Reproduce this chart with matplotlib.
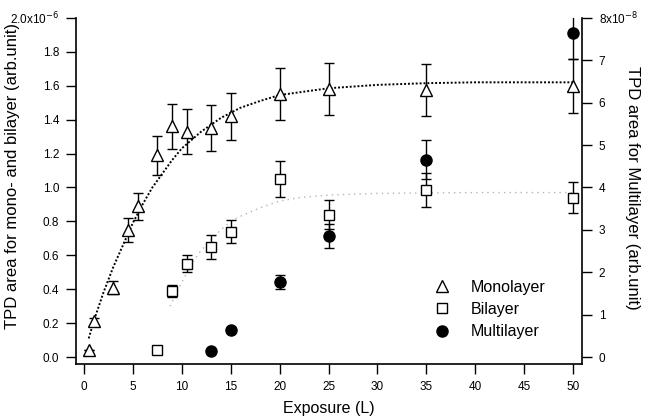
import matplotlib

matplotlib.use("Agg")
import matplotlib.pyplot as plt
from matplotlib.lines import Line2D

plt.rcParams["font.family"] = ["Liberation Sans", "DejaVu Sans"]

# Monolayer (left axis, units of 1e-6)
mono_x = [0.5, 1, 3, 4.5, 5.5, 7.5, 9, 10.5, 13, 15, 20, 25, 35, 50]
mono_y = [0.04, 0.21, 0.41, 0.75, 0.89, 1.19, 1.36, 1.33, 1.35, 1.42, 1.55, 1.58, 1.575, 1.60]
mono_err = [0.0, 0.02, 0.04, 0.07, 0.08, 0.115, 0.135, 0.13, 0.135, 0.14, 0.155, 0.155, 0.155, 0.16]

# Bilayer (left axis, units of 1e-6)
bi_x = [7.5, 9, 10.5, 13, 15, 20, 25, 35, 50]
bi_y = [0.04, 0.39, 0.55, 0.65, 0.74, 1.05, 0.84, 0.985, 0.94]
bi_err = [0.02, 0.035, 0.05, 0.07, 0.07, 0.105, 0.085, 0.1, 0.09]

# Multilayer (right axis, units of 1e-8)
multi_x = [13, 15, 20, 25, 35, 50]
multi_y = [0.14, 0.64, 1.77, 2.85, 4.65, 7.64]
multi_err = [0.0, 0.0, 0.17, 0.29, 0.46, 0.6]

# fit curves
mono_fit_x = [0.5, 1, 2, 3, 4, 5, 6, 7, 8, 9, 10, 12, 14, 16, 18, 20, 25, 30, 35, 40, 50]
mono_fit_y = [0.11, 0.21, 0.38, 0.53, 0.66, 0.79, 0.90, 1.00, 1.08, 1.16, 1.23, 1.33, 1.41,
              1.47, 1.51, 1.545, 1.585, 1.605, 1.615, 1.62, 1.62]
bi_fit_x = [8.8, 10, 11, 12, 13, 14, 15, 16, 18, 20, 22, 25, 30, 40, 50]
bi_fit_y = [0.30, 0.44, 0.55, 0.63, 0.69, 0.75, 0.80, 0.83, 0.88, 0.92, 0.94, 0.955, 0.965, 0.97, 0.97]

left_ticks = [0.0, 0.2, 0.4, 0.6, 0.8, 1.0, 1.2, 1.4, 1.6, 1.8, 2.0]
left_labels = ["0.0", "0.2", "0.4", "0.6", "0.8", "1.0", "1.2", "1.4", "1.6", "1.8",
               "2.0x10$^{-6}$"]
right_ticks = [0, 1, 2, 3, 4, 5, 6, 7, 8]
right_labels = ["0", "1", "2", "3", "4", "5", "6", "7", "8x10$^{-8}$"]

fig = plt.figure(figsize=(6.47, 4.16), dpi=100)
ax = fig.add_axes([0.1175, 0.125, 0.782, 0.832])
ax2 = ax.twinx()

ax.plot(mono_fit_x, mono_fit_y, linestyle=(0, (1, 1)), color="black", linewidth=1.4)
ax.plot(bi_fit_x, bi_fit_y, linestyle=(0, (1, 3)), color="#b5b5b5", linewidth=1.0)

ax.errorbar(mono_x, mono_y, yerr=mono_err, fmt="^", mfc="white", mec="black", ms=8,
            mew=1.0, ecolor="black", elinewidth=1.0, capsize=3.5, capthick=1.0)
ax.errorbar(bi_x, bi_y, yerr=bi_err, fmt="s", mfc="white", mec="black", ms=7,
            mew=1.0, ecolor="black", elinewidth=1.0, capsize=3.5, capthick=1.0)
ax2.errorbar(multi_x, multi_y, yerr=multi_err, fmt="o", mfc="black", mec="black", ms=8,
             ecolor="black", elinewidth=1.0, capsize=3.5, capthick=1.0)

ax.set_xlim(-0.8, 50.9)
ax.set_ylim(-0.041, 2.0)
ax2.set_ylim(-0.165, 8.0)

ax.set_xticks(range(0, 51, 5))
ax.set_yticks(left_ticks)
ax.set_yticklabels(left_labels)
ax2.set_yticks(right_ticks)
ax2.set_yticklabels(right_labels)

for a in (ax, ax2):
    a.spines["top"].set_visible(False)
    a.tick_params(direction="out", length=7, width=1, labelsize=8.5, pad=5)
ax.spines["right"].set_visible(False)
ax2.spines["left"].set_visible(False)
ax2.spines["bottom"].set_visible(False)
for s in ("left", "bottom"):
    ax.spines[s].set_linewidth(1.2)
ax2.spines["right"].set_linewidth(1.2)

ax.set_xlabel("Exposure (L)", fontsize=11.5, labelpad=6)
ax.set_ylabel("TPD area for mono- and bilayer (arb.unit)", fontsize=12)
ax.yaxis.set_label_coords(-0.11, 0.543)
ax2.set_ylabel("TPD area for Multilayer (arb.unit)", fontsize=12, rotation=-90,
               va="center")
ax2.yaxis.set_label_coords(1.1, 0.51)

handles = [
    Line2D([], [], linestyle="none", marker="^", mfc="white", mec="black", ms=8),
    Line2D([], [], linestyle="none", marker="s", mfc="white", mec="black", ms=7),
    Line2D([], [], linestyle="none", marker="o", mfc="black", mec="black", ms=8),
]
ax2.legend(handles, ["Monolayer", "Bilayer", "Multilayer"], loc="lower right",
           bbox_to_anchor=(0.957, 0.03), frameon=False, fontsize=11.5,
           handletextpad=0.8, labelspacing=0.45)

fig.savefig("out.png", dpi=100)
